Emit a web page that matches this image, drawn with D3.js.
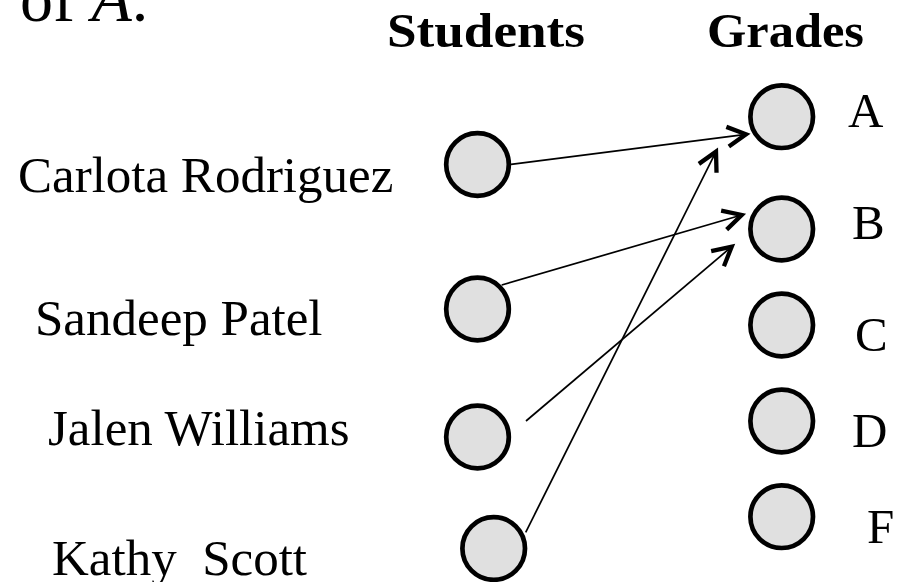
<!DOCTYPE html>
<html>
<head>
<meta charset="utf-8">
<script src="https://cdn.jsdelivr.net/npm/d3@7"></script>
<style>
  html, body { margin: 0; padding: 0; background: #fff; }
  svg { display: block; }
  text { font-family: "Liberation Serif", "DejaVu Serif", serif; fill: #000; white-space: pre; }
</style>
</head>
<body>
<svg id="chart" width="902" height="582"></svg>
<script>
// ---- data ----
const students = ["Carlota Rodriguez", "Sandeep Patel", "Jalen Williams", "Kathy  Scott"];
const grades = ["A", "B", "C", "D", "F"];
const assignSource = ["Carlota Rodriguez", "Sandeep Patel", "Jalen Williams", "Kathy  Scott"];
const assignTarget = ["A", "B", "B", "A"];
const headers = ["Students", "Grades"];

// ---- layout (row positions in diagram units) ----
const studentRow = [1.645, 3.09, 4.37, 5.485];
const studentCol = [4.775, 4.775, 4.775, 4.937];
const gradeRow = [1.167, 2.29, 3.25, 4.21, 5.167];
const gradeCol = 7.817;

const W = 902, H = 582;
const x = d3.scaleLinear().domain([0, 9.02]).range([0, W]);
const y = d3.scaleLinear().domain([0, 5.82]).range([0, H]);

const svg = d3.select("#chart");
const R = 31.3;

// title fragment
const title = svg.append("text").attr("x", 20).attr("y", 21).attr("font-size", 66);
title.append("tspan").text("of ");
title.append("tspan").attr("font-style", "italic").text("A");
title.append("tspan").text(".");

// headers
const hdrX = [387, 707];
const hdrW = [198, 157];
svg.selectAll("text.hdr").data(headers).join("text")
  .attr("class", "hdr")
  .attr("x", (d, i) => hdrX[i])
  .attr("y", 47)
  .attr("font-size", 49)
  .attr("font-weight", "bold")
  .attr("textLength", (d, i) => hdrW[i])
  .attr("lengthAdjust", "spacingAndGlyphs")
  .text(d => d);

// student labels
const nameX = [18, 35, 48, 52];
const nameY = [192, 335, 445, 575];
svg.selectAll("text.name").data(students).join("text")
  .attr("class", "name")
  .attr("x", (d, i) => nameX[i])
  .attr("y", (d, i) => nameY[i])
  .attr("font-size", 51)
  .text(d => d);

// grade labels
const gLabX = [848, 852, 855, 852, 867];
const gLabY = [127, 239, 351, 447, 543];
svg.selectAll("text.grade").data(grades).join("text")
  .attr("class", "grade")
  .attr("x", (d, i) => gLabX[i])
  .attr("y", (d, i) => gLabY[i])
  .attr("font-size", 49)
  .text(d => d);

// node positions
const sPos = {};
students.forEach((s, i) => sPos[s] = [x(studentCol[i]), y(studentRow[i])]);
const gPos = {};
grades.forEach((g, i) => gPos[g] = [x(gradeCol), y(gradeRow[i])]);

// link endpoint offsets (start offset from student centre, tip offset from grade centre)
const startOff = [[33.5, -0.2], [24.2, -24], [48.5, -16], [32, -16.2]];
const tipOff = [[-35.7, 17.6], [-40, -14], [-50, 17.7], [-65.7, 35]];

const links = assignSource.map((s, i) => {
  const a = sPos[s], b = gPos[assignTarget[i]];
  return { x1: a[0] + startOff[i][0], y1: a[1] + startOff[i][1], x2: b[0] + tipOff[i][0], y2: b[1] + tipOff[i][1] };
});

const gl = svg.append("g");
gl.selectAll("line").data(links).join("line")
  .attr("x1", d => d.x1).attr("y1", d => d.y1)
  .attr("x2", d => d.x2).attr("y2", d => d.y2)
  .attr("stroke", "#000").attr("stroke-width", 1.7);

const armLen = 21, half = 28 * Math.PI / 180;
gl.selectAll("path.head").data(links).join("path")
  .attr("class", "head")
  .attr("d", d => {
    const ang = Math.atan2(d.y1 - d.y2, d.x1 - d.x2);
    const p1 = [d.x2 + armLen * Math.cos(ang + half), d.y2 + armLen * Math.sin(ang + half)];
    const p2 = [d.x2 + armLen * Math.cos(ang - half), d.y2 + armLen * Math.sin(ang - half)];
    return `M${p1[0]},${p1[1]}L${d.x2},${d.y2}L${p2[0]},${p2[1]}`;
  })
  .attr("fill", "none").attr("stroke", "#000").attr("stroke-width", 4.3)
  .attr("stroke-linejoin", "miter").attr("stroke-linecap", "butt");

// circles
const nodes = students.map(s => sPos[s]).concat(grades.map(g => gPos[g]));
svg.append("g").selectAll("circle").data(nodes).join("circle")
  .attr("cx", d => d[0]).attr("cy", d => d[1]).attr("r", R)
  .attr("fill", "#e0e0e0").attr("stroke", "#000").attr("stroke-width", 4.7);
</script>
</body>
</html>
